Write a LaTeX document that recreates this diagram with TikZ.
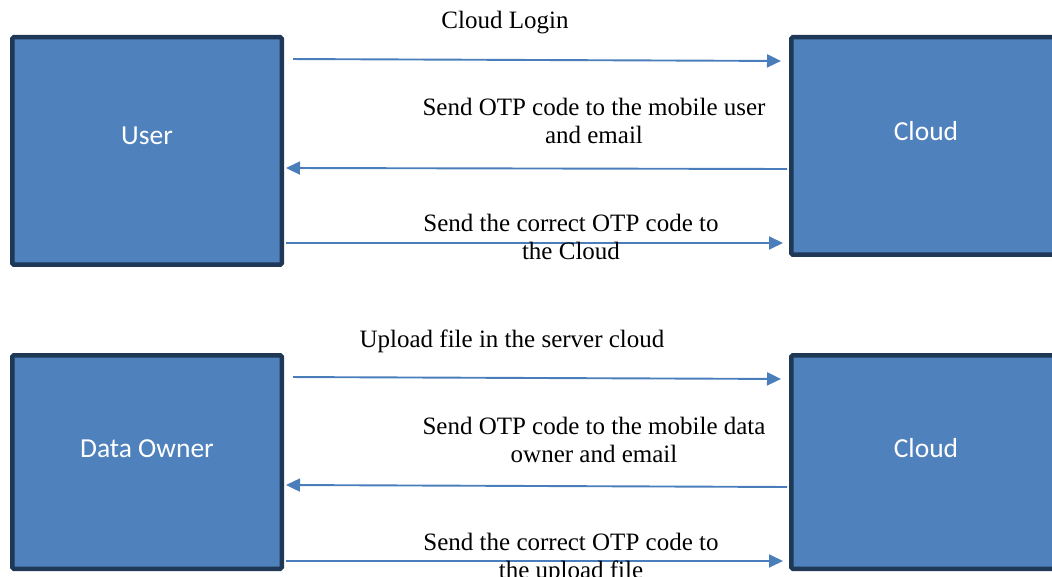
\documentclass[tikz,border=0pt]{standalone}
\usepackage{fontspec}
\setmainfont{Liberation Serif}
\newfontfamily\boxfont{Carlito}
\usetikzlibrary{arrows.meta}
\definecolor{boxfill}{HTML}{4F81BD}
\definecolor{boxline}{HTML}{1F3855}
\definecolor{arrcol}{HTML}{4A7EBB}
\tikzset{
  entity/.style={draw=boxline, fill=boxfill, line width=4.5pt, rounded corners=1.5pt,
    minimum width=269.5pt, inner sep=0pt},
  entlabel/.style={text=white, font=\boxfont\fontsize{27.5}{30}\selectfont},
  arr/.style={draw=arrcol, line width=1.9pt, -{Triangle[length=14pt,width=13pt]}},
  msg/.style={font=\fontsize{25}{28}\selectfont, align=center, anchor=base, inner sep=0pt},
}
\begin{document}
\begin{tikzpicture}[x=1pt,y=-1pt]
\useasboundingbox (0,0) rectangle (1052,577);
% boxes
\node[entity, minimum height=227.5pt, label={[entlabel, yshift=15pt]center:User}] (user) at (147,151) {};
\node[entity, minimum height=217.5pt, label={[entlabel, yshift=15pt]center:Cloud}] (cloud1) at (926,146) {};
\node[entity, minimum height=213.5pt, label={[entlabel, yshift=13pt]center:Data Owner}] (owner) at (147,462) {};
\node[entity, minimum height=213.5pt, label={[entlabel, yshift=13.5pt]center:Cloud}] (cloud2) at (926,462) {};
% arrows top
\draw[arr, shorten <=9pt, shorten >=8pt] (user.east |- 0,59) -- (cloud1.west |- 0,61);
\draw[arr, shorten <=2pt, shorten >=2pt] (cloud1.west |- 0,169) -- (user.east |- 0,168);
\draw[arr, shorten <=2pt, shorten >=6pt] (user.east |- 0,243) -- (cloud1.west |- 0,243);
% arrows bottom
\draw[arr, shorten <=9pt, shorten >=8pt] (owner.east |- 0,377) -- (cloud2.west |- 0,379);
\draw[arr, shorten <=2pt, shorten >=2pt] (cloud2.west |- 0,487) -- (owner.east |- 0,485);
\draw[arr, shorten <=2pt, shorten >=6pt] (owner.east |- 0,561) -- (cloud2.west |- 0,561);
% labels (two-line nodes: base = last line)
\node[msg] (t1) at (505,29) {Cloud Login};
\node[msg] (t2) at (594,144) {Send OTP code to the mobile user\\and email};
\node[msg] (t3) at (571,260) {Send the correct OTP code to\\the Cloud};
\node[msg] (t4) at (512,347) {Upload file in the server cloud};
\node[msg] (t5) at (594,462) {Send OTP code to the mobile data\\owner and email};
\node[msg] (t6) at (571,578) {Send the correct OTP code to\\the upload file};
\end{tikzpicture}
\end{document}
